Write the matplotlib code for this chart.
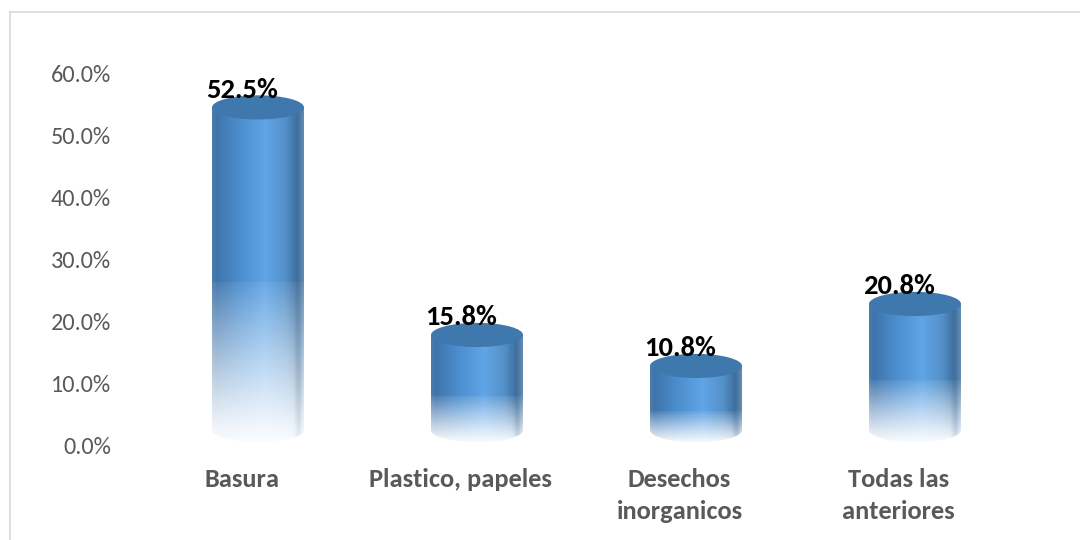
import matplotlib
matplotlib.use('Agg')
import matplotlib.pyplot as plt
import numpy as np
from matplotlib.lines import Line2D
from matplotlib.patches import Ellipse, PathPatch
from matplotlib.path import Path
from matplotlib.transforms import ScaledTranslation

plt.rcParams['font.family'] = ['Carlito', 'Lato', 'DejaVu Sans']

categories = ['Basura', 'Plastico, papeles', 'Desechos\ninorganicos', 'Todas las\nanteriores']
values = [52.5, 15.8, 10.8, 20.8]
yticks = [0, 10, 20, 30, 40, 50, 60]

W, H = 1080, 540
X0, X1 = 148.5, 1024.5   # plot area in pixels
Y0, Y1 = 445, 73

bar_w = 0.42
ell_h = 3.9     # height of the top ellipse, in axis units
base_y = 2.4    # centre of the base ellipse

fig = plt.figure(figsize=(W / 100, H / 100), dpi=100, facecolor='white')
ax = fig.add_axes([X0 / W, 1 - Y0 / H, (X1 - X0) / W, (Y0 - Y1) / H])
ax.set_xlim(-0.5, 3.5)
ax.set_ylim(0, 60)

# colours across the cylinder, left to right
stops = np.array([0, 0.05, 0.3, 0.58, 0.8, 0.93, 1])
reds = np.array([78, 62, 76, 96, 84, 62, 100])
greens = np.array([124, 116, 142, 165, 144, 110, 140])
blues = np.array([168, 172, 206, 230, 200, 158, 176])


def cylinder(ax, x, v):
    top = v + ell_h / 2
    nx, ny = 200, 500
    t = np.linspace(0, 1, nx)
    rgb = np.stack([np.interp(t, stops, reds),
                    np.interp(t, stops, greens),
                    np.interp(t, stops, blues)], axis=1) / 255
    # fade to white below half of the bar height, with a small step where it starts
    ys = np.linspace(base_y - ell_h / 2, top, ny)[:, None]
    frac = np.clip(ys / (0.5 * v), 0, 1)
    fade = np.where(frac < 1, 0.015 + 0.925 * frac ** 1.15, 1.0)
    # the dark strip on the right side holds on a bit longer
    strip = np.clip((t - 0.88) / 0.06, 0, 1) * np.clip((1.0 - t) / 0.04, 0, 1)
    alpha = fade ** (1 - 0.35 * strip[None, :])
    img = np.ones((ny, nx, 4))
    img[:, :, :3] = rgb[None, :, :]
    img[:, :, 3] = alpha

    hw = bar_w / 2
    k = 0.5523
    ry = ell_h / 2
    # body outline: side walls plus the lower half of the base ellipse
    verts = [(x - hw, top), (x - hw, base_y),
             (x - hw, base_y - k * ry), (x - k * hw, base_y - ry), (x, base_y - ry),
             (x + k * hw, base_y - ry), (x + hw, base_y - k * ry), (x + hw, base_y),
             (x + hw, top), (x - hw, top)]
    codes = [Path.MOVETO, Path.LINETO,
             Path.CURVE4, Path.CURVE4, Path.CURVE4,
             Path.CURVE4, Path.CURVE4, Path.CURVE4,
             Path.LINETO, Path.CLOSEPOLY]
    clip = PathPatch(Path(verts, codes), fc='none', ec='none', transform=ax.transData)
    ax.add_patch(clip)
    im = ax.imshow(img, extent=(x - hw, x + hw, base_y - ry, top), origin='lower',
                   aspect='auto', interpolation='bilinear', zorder=2)
    im.set_clip_path(clip)
    ax.add_patch(Ellipse((x, v + ell_h / 2), bar_w, ell_h, fc='#3f78ad', ec='none', zorder=3))


for i, v in enumerate(values):
    cylinder(ax, i, v)
    ax.annotate(f'{v:.1f}%', xy=(i, v), xytext=(-16, 30),
                textcoords='offset pixels', ha='center', va='center',
                fontsize=20.5, fontweight='bold', color='black', zorder=5)

ax.set_xlim(-0.5, 3.5)
ax.set_ylim(0, 60)
ax.set_yticks(yticks)
ax.set_yticklabels([f'{t:.1f}%' for t in yticks], fontsize=17.5, color='#595959')
ax.set_xticks(range(len(categories)))
ax.set_xticklabels(categories, fontsize=19, fontweight='bold', color='#595959', linespacing=1.5)
ax.tick_params(length=0)
ax.tick_params(axis='x', pad=16.5)
ax.tick_params(axis='y', pad=27)
# category labels sit a little left of the bars
shift = ScaledTranslation(-16.5 / 100, 0, fig.dpi_scale_trans)
for lab in ax.get_xticklabels():
    lab.set_transform(lab.get_transform() + shift)
for s in ax.spines.values():
    s.set_visible(False)

# chart area border
border = '#d9d9d9'
fig.add_artist(Line2D([9.5 / W, 9.5 / W], [0, 1 - 11.5 / H], color=border, lw=1.2))
fig.add_artist(Line2D([9.5 / W, 1], [1 - 11.5 / H, 1 - 11.5 / H], color=border, lw=1.2))

fig.savefig('out.png', dpi=100, facecolor='white')
